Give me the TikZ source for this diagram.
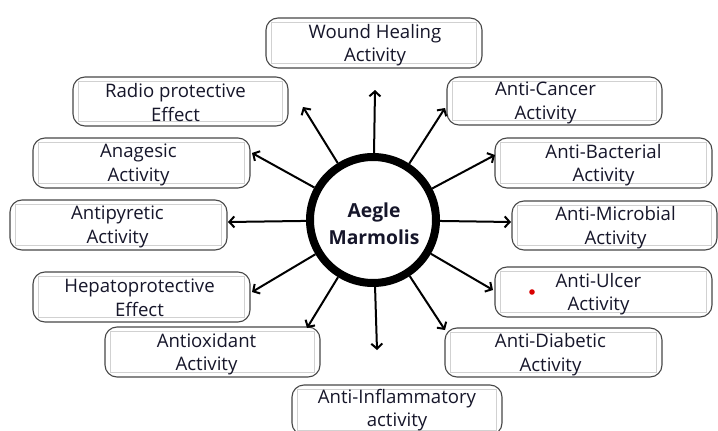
\documentclass[tikz,border=0pt]{standalone}
\usepackage{fontspec}
\setmainfont{Open Sans}
\usetikzlibrary{arrows.meta,calc}
\definecolor{txt}{HTML}{16162A}
\begin{document}
\begin{tikzpicture}[x=1pt,y=-1pt,
  box/.style={draw=black!72, line width=1.1pt, rounded corners=12pt, inner sep=0pt, fill=white},
  innerbox/.style={draw=black!18, line width=0.8pt},
  lbl/.style={align=center, font=\fontsize{18.6}{23.5}\selectfont, text=txt, inner sep=0pt},
  arr/.style={line width=2pt, -{Straight Barb[length=5pt,width=11pt,line width=2pt]}},
]
\useasboundingbox (0,0) rectangle (718,431);
\fill[white] (0,0) rectangle (718,431);

% boxes
\node[box, minimum width=216pt, minimum height=50pt] (wound)  at (374,43)    {};
\node[box, minimum width=215pt, minimum height=49pt] (radio)  at (180.5,101.5) {};
\node[box, minimum width=217pt, minimum height=50pt] (anag)   at (141.5,163) {};
\node[box, minimum width=217pt, minimum height=50pt] (antipy) at (118.5,225) {};
\node[box, minimum width=217pt, minimum height=50pt] (hepato) at (141.5,297) {};
\node[box, minimum width=215pt, minimum height=50pt] (antiox) at (212.5,352) {};
\node[box, minimum width=210pt, minimum height=50pt] (inflam) at (397,410)   {};
\node[box, minimum width=215pt, minimum height=48pt] (cancer) at (554.5,101) {};
\node[box, minimum width=217pt, minimum height=50pt] (bact)   at (603.5,163) {};
\node[box, minimum width=205pt, minimum height=49pt] (micro)  at (614.5,225.5) {};
\node[box, minimum width=217pt, minimum height=50pt] (ulcer)  at (603.5,292) {};
\node[box, minimum width=217pt, minimum height=49pt] (diab)   at (553.5,352.5) {};

\foreach \n in {wound,radio,anag,antipy,hepato,antiox,inflam,cancer,bact,micro,ulcer,diab}
  \draw[innerbox] ($(\n.south west)+(6,-5)$) rectangle ($(\n.north east)+(-6,5)$);

% labels
\node[lbl] at ($(wound)+(1,2)$)  {Wound Healing\\Activity};
\node[lbl] at ($(radio)+(-5,1)$) {Radio protective\\Effect};
\node[lbl] at ($(anag)+(-3,2)$)  {Anagesic\\Activity};
\node[lbl] at ($(antipy)+(-1,2)$) {Antipyretic\\Activity};
\node[lbl] at ($(hepato)+(-2,1)$) {Hepatoprotective\\Effect};
\node[lbl] at ($(antiox)+(-6,2)$) {Antioxidant\\Activity};
\node[lbl] at ($(inflam)+(0,0)$) {Anti-Inflammatory\\activity};
\node[lbl] at ($(cancer)+(-9,2)$) {Anti-Cancer\\Activity};
\node[lbl] at ($(bact)+(0,2)$)   {Anti-Bacterial\\Activity};
\node[lbl] at ($(micro)+(1,2)$)  {Anti-Microbial\\Activity};
\node[lbl] at ($(ulcer)+(-5,2)$) {Anti-Ulcer\\Activity};
\node[lbl] at ($(diab)+(-3,2)$)  {Anti-Diabetic\\Activity};

\fill[red!85!black] (532,292) circle (2.8pt);

% centre
\node[circle, draw, line width=8pt, minimum size=126pt, inner sep=0pt, fill=white] (c) at (373,220) {};
\node[align=center, font=\bfseries\fontsize{19.3}{27}\selectfont, text=txt, inner sep=0pt] (ctext) at (374,224) {Aegle\\Marmolis};

% arrow tips
\coordinate (t1)  at (375,90);
\coordinate (t2)  at (303,107);
\coordinate (t3)  at (252,153);
\coordinate (t4)  at (228,222);
\coordinate (t5)  at (252,292);
\coordinate (t6)  at (307,328);
\coordinate (t7)  at (377,350);
\coordinate (t8)  at (445,330);
\coordinate (t9)  at (493,290);
\coordinate (t10) at (511,222);
\coordinate (t11) at (495,155);
\coordinate (t12) at (445,108);

\foreach \t in {t1,t2,t3,t4,t5,t6,t7,t8,t9,t10,t11,t12}
  \draw[arr] (c) -- (\t);
\end{tikzpicture}
\end{document}
